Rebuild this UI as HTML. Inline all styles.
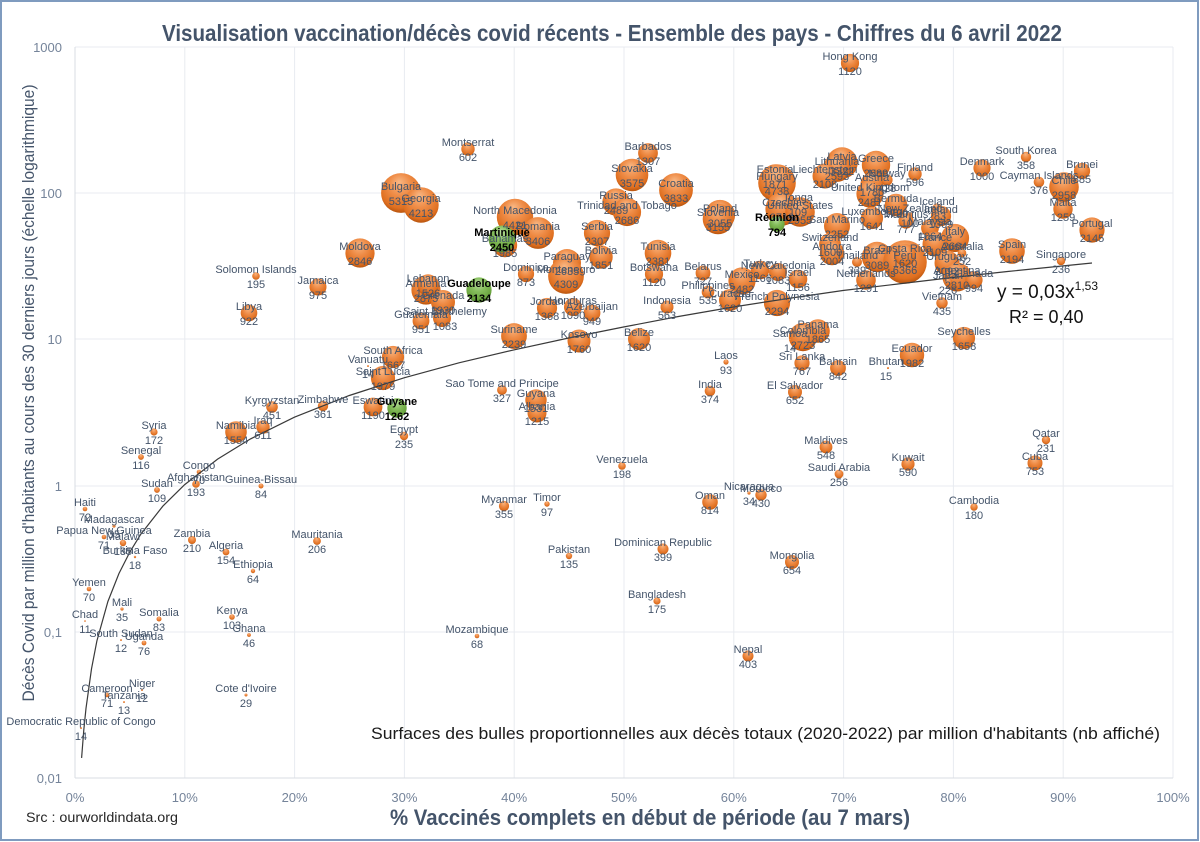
<!DOCTYPE html>
<html><head><meta charset="utf-8"><style>html,body{margin:0;padding:0;background:#fff}svg{display:block}</style></head>
<body>
<svg xmlns="http://www.w3.org/2000/svg" width="1200" height="842" viewBox="0 0 1200 842">
<defs>
<radialGradient id="o" cx="0.5" cy="0.38" r="0.62" fx="0.45" fy="0.22">
<stop offset="0" stop-color="#f8b784"/><stop offset="0.45" stop-color="#ef8d48"/><stop offset="0.85" stop-color="#df6f20"/><stop offset="1" stop-color="#b8550f"/>
</radialGradient>
<radialGradient id="g" cx="0.5" cy="0.38" r="0.62" fx="0.45" fy="0.22">
<stop offset="0" stop-color="#b9de9e"/><stop offset="0.45" stop-color="#85bd5c"/><stop offset="0.85" stop-color="#6aa53e"/><stop offset="1" stop-color="#4b7d2a"/>
</radialGradient>
</defs>
<rect x="0" y="0" width="1200" height="842" fill="#fff"/>
<rect x="1" y="1" width="1197" height="839" fill="none" stroke="#7f9bbf" stroke-width="2"/>
<!-- grid -->
<g stroke="#e8ebf0" stroke-width="1">
<line x1="75" y1="47" x2="1173" y2="47"/>
<line x1="75" y1="193" x2="1173" y2="193"/>
<line x1="75" y1="339" x2="1173" y2="339"/>
<line x1="75" y1="486" x2="1173" y2="486"/>
<line x1="75" y1="632" x2="1173" y2="632"/>
<line x1="184.8" y1="47" x2="184.8" y2="778"/>
<line x1="294.6" y1="47" x2="294.6" y2="778"/>
<line x1="404.4" y1="47" x2="404.4" y2="778"/>
<line x1="514.2" y1="47" x2="514.2" y2="778"/>
<line x1="624" y1="47" x2="624" y2="778"/>
<line x1="733.8" y1="47" x2="733.8" y2="778"/>
<line x1="843.6" y1="47" x2="843.6" y2="778"/>
<line x1="953.4" y1="47" x2="953.4" y2="778"/>
<line x1="1063.2" y1="47" x2="1063.2" y2="778"/>
<line x1="1173" y1="47" x2="1173" y2="778"/>
</g>
<g stroke="#d9dde3" stroke-width="1">
<line x1="75" y1="47" x2="75" y2="778"/>
<line x1="75" y1="778" x2="1173" y2="778"/>
</g>
<!-- title -->
<text x="162" y="41" font-family="'Liberation Sans', sans-serif" font-weight="bold" font-size="23" fill="#44546a" textLength="900" lengthAdjust="spacingAndGlyphs">Visualisation vaccination/décès covid récents - Ensemble des pays - Chiffres du 6 avril 2022</text>
<!-- y ticks -->
<g font-family="'Liberation Sans', sans-serif" font-size="13" fill="#75849a" text-anchor="end">
<text x="62" y="52">1000</text>
<text x="62" y="198">100</text>
<text x="62" y="344">10</text>
<text x="62" y="491">1</text>
<text x="62" y="637">0,1</text>
<text x="62" y="783">0,01</text>
</g>
<g font-family="'Liberation Sans', sans-serif" font-size="13" fill="#75849a" text-anchor="middle">
<text x="75" y="802">0%</text>
<text x="184.8" y="802">10%</text>
<text x="294.6" y="802">20%</text>
<text x="404.4" y="802">30%</text>
<text x="514.2" y="802">40%</text>
<text x="624" y="802">50%</text>
<text x="733.8" y="802">60%</text>
<text x="843.6" y="802">70%</text>
<text x="953.4" y="802">80%</text>
<text x="1063.2" y="802">90%</text>
<text x="1173" y="802">100%</text>
</g>
<text transform="translate(34,393) rotate(-90)" text-anchor="middle" font-family="'Liberation Sans', sans-serif" font-size="17" fill="#44546a" textLength="617" lengthAdjust="spacingAndGlyphs">Décès Covid par million d'habitants au cours des 30 derniers jours (échelle logarithmique)</text>
<text x="390" y="825" font-family="'Liberation Sans', sans-serif" font-weight="bold" font-size="22" fill="#44546a" textLength="520" lengthAdjust="spacingAndGlyphs">% Vaccinés complets en début de période (au 7 mars)</text>
<text x="26" y="822" font-family="'Liberation Sans', sans-serif" font-size="14" fill="#262626" textLength="152" lengthAdjust="spacingAndGlyphs">Src : ourworldindata.org</text>

<!-- bubbles -->
<g fill="url(#o)">
<circle cx="85" cy="509" r="2.3"/><circle cx="114" cy="526" r="1.6"/><circle cx="104" cy="537" r="2.3"/><circle cx="123" cy="543" r="3.2"/><circle cx="135" cy="557" r="1.2"/>
<circle cx="89" cy="589" r="2.3"/><circle cx="122" cy="609" r="1.6"/><circle cx="85" cy="621" r="0.9"/><circle cx="159" cy="619" r="2.5"/><circle cx="121" cy="640" r="1"/>
<circle cx="144" cy="643" r="2.4"/><circle cx="107" cy="695" r="2.3"/><circle cx="142" cy="690" r="1"/><circle cx="124" cy="702" r="1"/><circle cx="81" cy="728" r="1"/>
<circle cx="246" cy="695" r="1.5"/><circle cx="232" cy="617" r="2.8"/><circle cx="249" cy="635" r="1.9"/><circle cx="253" cy="571" r="2.2"/><circle cx="226" cy="552" r="3.4"/>
<circle cx="192" cy="540" r="4"/><circle cx="317" cy="541" r="3.9"/><circle cx="157" cy="490" r="2.9"/><circle cx="196" cy="484" r="3.8"/><circle cx="199" cy="472" r="2.3"/>
<circle cx="261" cy="486" r="2.5"/><circle cx="141" cy="457" r="2.9"/><circle cx="154" cy="432" r="3.6"/><circle cx="236" cy="432" r="10.8"/><circle cx="263" cy="427" r="6.7"/>
<circle cx="272" cy="407" r="5.8"/><circle cx="323" cy="406" r="5.2"/><circle cx="373" cy="407" r="9.4"/><circle cx="404" cy="436" r="4.2"/><circle cx="393" cy="357" r="11.1"/>
<circle cx="368" cy="366" r="1"/><circle cx="383" cy="378" r="12.1"/><circle cx="249" cy="313" r="8.3"/><circle cx="256" cy="276" r="3.8"/><circle cx="318" cy="287" r="8.5"/>
<circle cx="360" cy="253" r="14.6"/><circle cx="401" cy="193" r="19.9"/><circle cx="421" cy="205" r="17.7"/><circle cx="426" cy="290" r="14.6"/><circle cx="428" cy="285" r="10.7"/>
<circle cx="443" cy="302" r="12"/><circle cx="421" cy="321" r="8.4"/><circle cx="442" cy="318" r="9"/><circle cx="515" cy="217" r="18.2"/><circle cx="538" cy="233" r="15.9"/>
<circle cx="505" cy="245" r="12.2"/><circle cx="468" cy="149" r="6.7"/><circle cx="648" cy="153" r="9.9"/><circle cx="632" cy="175" r="16.3"/><circle cx="676" cy="190" r="16.9"/>
<circle cx="616" cy="202" r="13.6"/><circle cx="627" cy="212" r="14.1"/><circle cx="597" cy="233" r="13.1"/><circle cx="601" cy="257" r="11.7"/><circle cx="567" cy="263" r="14"/>
<circle cx="566" cy="276" r="17.9"/><circle cx="526" cy="274" r="8.1"/><circle cx="547" cy="308" r="10.1"/><circle cx="573" cy="307" r="9"/><circle cx="592" cy="313" r="8.4"/>
<circle cx="514" cy="336" r="12.9"/><circle cx="579" cy="341" r="11.5"/><circle cx="639" cy="339" r="11"/><circle cx="658" cy="253" r="13.3"/><circle cx="654" cy="274" r="9.1"/>
<circle cx="667" cy="307" r="6.5"/><circle cx="703" cy="273" r="7.4"/><circle cx="708" cy="292" r="6.3"/><circle cx="720" cy="215" r="15.1"/><circle cx="718" cy="219" r="15.3"/>
<circle cx="775" cy="176" r="11.8"/><circle cx="777" cy="183" r="18.8"/><circle cx="782" cy="209" r="16.6"/><circle cx="798" cy="204" r="2.9"/><circle cx="800" cy="212" r="14.8"/>
<circle cx="842" cy="163" r="15.7"/><circle cx="837" cy="168" r="13.9"/><circle cx="825" cy="176" r="12.5"/><circle cx="876" cy="165" r="14.2"/><circle cx="872" cy="184" r="11.5"/>
<circle cx="870" cy="194" r="13.6"/><circle cx="887" cy="180" r="5.6"/><circle cx="915" cy="174" r="6.7"/><circle cx="982" cy="168" r="8.6"/><circle cx="896" cy="205" r="11.3"/>
<circle cx="937" cy="208" r="4.6"/><circle cx="910" cy="215" r="2.7"/><circle cx="941" cy="216" r="10.1"/><circle cx="872" cy="218" r="11.1"/><circle cx="906" cy="221" r="7.6"/>
<circle cx="930" cy="228" r="8.9"/><circle cx="955" cy="238" r="14.1"/><circle cx="935" cy="244" r="12.5"/><circle cx="962" cy="253" r="4.3"/><circle cx="947" cy="263" r="12.5"/>
<circle cx="957" cy="277" r="14.5"/><circle cx="948" cy="282" r="4.1"/><circle cx="974" cy="280" r="8.6"/><circle cx="942" cy="303" r="5.7"/><circle cx="1012" cy="251" r="12.8"/>
<circle cx="1061" cy="261" r="4.2"/><circle cx="1092" cy="230" r="12.6"/><circle cx="1063" cy="209" r="9.7"/><circle cx="1064" cy="187" r="14.8"/><circle cx="1039" cy="182" r="5.3"/>
<circle cx="1082" cy="171" r="8.1"/><circle cx="1026" cy="157" r="5.2"/><circle cx="850" cy="63" r="9.1"/><circle cx="877" cy="257" r="15.2"/><circle cx="905" cy="262" r="21.8"/>
<circle cx="905" cy="255" r="11"/><circle cx="857" cy="262" r="5"/><circle cx="866" cy="280" r="9.8"/><circle cx="837" cy="226" r="13"/><circle cx="830" cy="244" r="10.9"/>
<circle cx="832" cy="253" r="12.2"/><circle cx="798" cy="279" r="9.3"/><circle cx="778" cy="272" r="9"/><circle cx="760" cy="270" r="9.3"/><circle cx="742" cy="281" r="13.6"/>
<circle cx="730" cy="300" r="11"/><circle cx="777" cy="303" r="13.1"/><circle cx="818" cy="331" r="11.8"/><circle cx="803" cy="337" r="14.2"/><circle cx="790" cy="340" r="1"/>
<circle cx="802" cy="363" r="7.6"/><circle cx="838" cy="368" r="7.9"/><circle cx="795" cy="392" r="7"/><circle cx="726" cy="362" r="2.6"/><circle cx="710" cy="391" r="5.3"/>
<circle cx="888" cy="368" r="1.1"/><circle cx="912" cy="355" r="12.2"/><circle cx="964" cy="338" r="11.1"/><circle cx="826" cy="447" r="6.4"/><circle cx="839" cy="474" r="4.4"/>
<circle cx="908" cy="464" r="6.6"/><circle cx="1046" cy="440" r="4.2"/><circle cx="1035" cy="463" r="7.5"/><circle cx="974" cy="507" r="3.7"/><circle cx="792" cy="562" r="7"/>
<circle cx="748" cy="656" r="5.5"/><circle cx="657" cy="601" r="3.6"/><circle cx="663" cy="549" r="5.5"/><circle cx="569" cy="556" r="3.2"/><circle cx="477" cy="636" r="2.3"/>
<circle cx="504" cy="506" r="5.1"/><circle cx="547" cy="504" r="2.7"/><circle cx="622" cy="466" r="3.8"/><circle cx="710" cy="502" r="7.8"/><circle cx="749" cy="493" r="1.6"/>
<circle cx="761" cy="495" r="5.7"/><circle cx="502" cy="390" r="4.9"/><circle cx="536" cy="400" r="10.7"/><circle cx="537" cy="413" r="9.5"/>
</g>
<g fill="url(#g)">
<circle cx="397" cy="408" r="9.7"/><circle cx="479" cy="290" r="12.6"/><circle cx="502" cy="239" r="13.5"/><circle cx="777" cy="224" r="7.7"/>
</g>

<!-- trend line -->
<path d="M81.6,757.9 L83.8,729.9 L86,708.3 L91.5,668.9 L96.9,640.9 L107.9,601.5 L118.9,573.6 L129.9,551.9 L140.8,534.2 L162.8,506.2 L184.7,484.6 L217.6,459.1 L250.5,438.9 L294.4,417.2 L349.3,395.5 L404.1,377.8 L459,362.8 L513.8,349.9 L568.7,338 L623.5,327 L678.4,316.5 L733.2,307 L788.1,298.5 L842.9,290.5 L897.8,284 L952.6,277.5 L1007.5,271.5 L1092,263" fill="none" stroke="#3a3a3a" stroke-width="1.2"/>

<!-- labels -->
<g font-family="'Liberation Sans', sans-serif" font-size="11" fill="#44546a" text-anchor="middle">
<text x="85" y="506">Haiti<tspan x="85" dy="15">72</tspan></text>
<text x="114" y="523">Madagascar<tspan x="114" dy="15">35</tspan></text>
<text x="104" y="534">Papua New Guinea<tspan x="104" dy="15">71</tspan></text>
<text x="123" y="540">Malawi<tspan x="123" dy="15">135</tspan></text>
<text x="135" y="554">Burkina Faso<tspan x="135" dy="15">18</tspan></text>
<text x="89" y="586">Yemen<tspan x="89" dy="15">70</tspan></text>
<text x="122" y="606">Mali<tspan x="122" dy="15">35</tspan></text>
<text x="85" y="618">Chad<tspan x="85" dy="15">11</tspan></text>
<text x="159" y="616">Somalia<tspan x="159" dy="15">83</tspan></text>
<text x="121" y="637">South Sudan<tspan x="121" dy="15">12</tspan></text>
<text x="144" y="640">Uganda<tspan x="144" dy="15">76</tspan></text>
<text x="107" y="692">Cameroon<tspan x="107" dy="15">71</tspan></text>
<text x="142" y="687">Niger<tspan x="142" dy="15">12</tspan></text>
<text x="124" y="699">Tanzania<tspan x="124" dy="15">13</tspan></text>
<text x="81" y="725">Democratic Republic of Congo<tspan x="81" dy="15">14</tspan></text>
<text x="246" y="692">Cote d'Ivoire<tspan x="246" dy="15">29</tspan></text>
<text x="232" y="614">Kenya<tspan x="232" dy="15">103</tspan></text>
<text x="249" y="632">Ghana<tspan x="249" dy="15">46</tspan></text>
<text x="253" y="568">Ethiopia<tspan x="253" dy="15">64</tspan></text>
<text x="226" y="549">Algeria<tspan x="226" dy="15">154</tspan></text>
<text x="192" y="537">Zambia<tspan x="192" dy="15">210</tspan></text>
<text x="317" y="538">Mauritania<tspan x="317" dy="15">206</tspan></text>
<text x="157" y="487">Sudan<tspan x="157" dy="15">109</tspan></text>
<text x="199" y="469">Congo<tspan x="199" dy="15">70</tspan></text>
<text x="196" y="481">Afghanistan<tspan x="196" dy="15">193</tspan></text>
<text x="261" y="483">Guinea-Bissau<tspan x="261" dy="15">84</tspan></text>
<text x="141" y="454">Senegal<tspan x="141" dy="15">116</tspan></text>
<text x="154" y="429">Syria<tspan x="154" dy="15">172</tspan></text>
<text x="236" y="429">Namibia<tspan x="236" dy="15">1554</tspan></text>
<text x="263" y="424">Iraq<tspan x="263" dy="15">611</tspan></text>
<text x="272" y="404">Kyrgyzstan<tspan x="272" dy="15">451</tspan></text>
<text x="323" y="403">Zimbabwe<tspan x="323" dy="15">361</tspan></text>
<text x="373" y="404">Eswatini<tspan x="373" dy="15">1190</tspan></text>
<text x="404" y="433">Egypt<tspan x="404" dy="15">235</tspan></text>
<text x="393" y="354">South Africa<tspan x="393" dy="15">1667</tspan></text>
<text x="368" y="363">Vanuatu<tspan x="368" dy="15">14</tspan></text>
<text x="383" y="375">Saint Lucia<tspan x="383" dy="15">1979</tspan></text>
<text x="249" y="310">Libya<tspan x="249" dy="15">922</tspan></text>
<text x="256" y="273">Solomon Islands<tspan x="256" dy="15">195</tspan></text>
<text x="318" y="284">Jamaica<tspan x="318" dy="15">975</tspan></text>
<text x="360" y="250">Moldova<tspan x="360" dy="15">2846</tspan></text>
<text x="401" y="190">Bulgaria<tspan x="401" dy="15">5315</tspan></text>
<text x="421" y="202">Georgia<tspan x="421" dy="15">4213</tspan></text>
<text x="428" y="282">Lebanon<tspan x="428" dy="15">1526</tspan></text>
<text x="426" y="287">Armenia<tspan x="426" dy="15">2875</tspan></text>
<text x="443" y="299">Grenada<tspan x="443" dy="15">1930</tspan></text>
<text x="421" y="318">Guatemala<tspan x="421" dy="15">951</tspan></text>
<text x="445" y="315">Saint Barthelemy<tspan x="445" dy="15">1083</tspan></text>
<text x="515" y="214">North Macedonia<tspan x="515" dy="15">4421</tspan></text>
<text x="538" y="230">Romania<tspan x="538" dy="15">3406</tspan></text>
<text x="505" y="242">Bahamas<tspan x="505" dy="15">1985</tspan></text>
<text x="468" y="146">Montserrat<tspan x="468" dy="15">602</tspan></text>
<text x="648" y="150">Barbados<tspan x="648" dy="15">1307</tspan></text>
<text x="632" y="172">Slovakia<tspan x="632" dy="15">3575</tspan></text>
<text x="676" y="187">Croatia<tspan x="676" dy="15">3833</tspan></text>
<text x="616" y="199">Russia<tspan x="616" dy="15">2489</tspan></text>
<text x="627" y="209">Trinidad and Tobago<tspan x="627" dy="15">2686</tspan></text>
<text x="597" y="230">Serbia<tspan x="597" dy="15">2307</tspan></text>
<text x="601" y="254">Bolivia<tspan x="601" dy="15">1851</tspan></text>
<text x="567" y="260">Paraguay<tspan x="567" dy="15">2635</tspan></text>
<text x="526" y="271">Dominica<tspan x="526" dy="15">873</tspan></text>
<text x="566" y="273">Montenegro<tspan x="566" dy="15">4309</tspan></text>
<text x="547" y="305">Jordan<tspan x="547" dy="15">1368</tspan></text>
<text x="573" y="304">Honduras<tspan x="573" dy="15">1090</tspan></text>
<text x="592" y="310">Azerbaijan<tspan x="592" dy="15">949</tspan></text>
<text x="514" y="333">Suriname<tspan x="514" dy="15">2239</tspan></text>
<text x="579" y="338">Kosovo<tspan x="579" dy="15">1760</tspan></text>
<text x="639" y="336">Belize<tspan x="639" dy="15">1620</tspan></text>
<text x="658" y="250">Tunisia<tspan x="658" dy="15">2381</tspan></text>
<text x="654" y="271">Botswana<tspan x="654" dy="15">1120</tspan></text>
<text x="667" y="304">Indonesia<tspan x="667" dy="15">563</tspan></text>
<text x="703" y="270">Belarus<tspan x="703" dy="15">727</tspan></text>
<text x="708" y="289">Philippines<tspan x="708" dy="15">535</tspan></text>
<text x="720" y="212">Poland<tspan x="720" dy="15">3055</tspan></text>
<text x="718" y="216">Slovenia<tspan x="718" dy="15">3155</tspan></text>
<text x="775" y="173">Estonia<tspan x="775" dy="15">1871</tspan></text>
<text x="777" y="180">Hungary<tspan x="777" dy="15">4738</tspan></text>
<text x="782" y="206">Czechia<tspan x="782" dy="15">3719</tspan></text>
<text x="798" y="201">Tonga<tspan x="798" dy="15">109</tspan></text>
<text x="800" y="209">United States<tspan x="800" dy="15">2955</tspan></text>
<text x="842" y="160">Latvia<tspan x="842" dy="15">3322</tspan></text>
<text x="837" y="165">Lithuania<tspan x="837" dy="15">2593</tspan></text>
<text x="825" y="173">Liechtenstein<tspan x="825" dy="15">2108</tspan></text>
<text x="876" y="162">Greece<tspan x="876" dy="15">2689</tspan></text>
<text x="872" y="181">Austria<tspan x="872" dy="15">1780</tspan></text>
<text x="870" y="191">United Kingdom<tspan x="870" dy="15">2481</tspan></text>
<text x="887" y="177">Norway<tspan x="887" dy="15">428</tspan></text>
<text x="915" y="171">Finland<tspan x="915" dy="15">596</tspan></text>
<text x="982" y="165">Denmark<tspan x="982" dy="15">1000</tspan></text>
<text x="896" y="202">Bermuda<tspan x="896" dy="15">1720</tspan></text>
<text x="937" y="205">Iceland<tspan x="937" dy="15">283</tspan></text>
<text x="910" y="212">New Zealand<tspan x="910" dy="15">100</tspan></text>
<text x="941" y="213">Ireland<tspan x="941" dy="15">1369</tspan></text>
<text x="872" y="215">Luxembourg<tspan x="872" dy="15">1641</tspan></text>
<text x="906" y="218">Mauritius<tspan x="906" dy="15">777</tspan></text>
<text x="930" y="225">Malaysia<tspan x="930" dy="15">1064</tspan></text>
<text x="955" y="235">Italy<tspan x="955" dy="15">2664</tspan></text>
<text x="935" y="241">France<tspan x="935" dy="15">2109</tspan></text>
<text x="962" y="250">Australia<tspan x="962" dy="15">252</tspan></text>
<text x="947" y="260">Uruguay<tspan x="947" dy="15">2092</tspan></text>
<text x="957" y="274">Argentina<tspan x="957" dy="15">2810</tspan></text>
<text x="948" y="279">Japan<tspan x="948" dy="15">226</tspan></text>
<text x="974" y="277">Canada<tspan x="974" dy="15">994</tspan></text>
<text x="942" y="300">Vietnam<tspan x="942" dy="15">435</tspan></text>
<text x="1012" y="248">Spain<tspan x="1012" dy="15">2194</tspan></text>
<text x="1061" y="258">Singapore<tspan x="1061" dy="15">236</tspan></text>
<text x="1092" y="227">Portugal<tspan x="1092" dy="15">2145</tspan></text>
<text x="1063" y="206">Malta<tspan x="1063" dy="15">1259</tspan></text>
<text x="1064" y="184">Chile<tspan x="1064" dy="15">2958</tspan></text>
<text x="1039" y="179">Cayman Islands<tspan x="1039" dy="15">376</tspan></text>
<text x="1082" y="168">Brunei<tspan x="1082" dy="15">885</tspan></text>
<text x="1026" y="154">South Korea<tspan x="1026" dy="15">358</tspan></text>
<text x="850" y="60">Hong Kong<tspan x="850" dy="15">1120</tspan></text>
<text x="877" y="254">Brazil<tspan x="877" dy="15">3089</tspan></text>
<text x="905" y="252">Costa Rica<tspan x="905" dy="15">1620</tspan></text>
<text x="905" y="259">Peru<tspan x="905" dy="15">6366</tspan></text>
<text x="857" y="259">Thailand<tspan x="857" dy="15">339</tspan></text>
<text x="866" y="277">Netherlands<tspan x="866" dy="15">1291</tspan></text>
<text x="837" y="223">San Marino<tspan x="837" dy="15">2252</tspan></text>
<text x="830" y="241">Switzerland<tspan x="830" dy="15">1600</tspan></text>
<text x="832" y="250">Andorra<tspan x="832" dy="15">2004</tspan></text>
<text x="798" y="276">Israel<tspan x="798" dy="15">1156</tspan></text>
<text x="778" y="269">New Caledonia<tspan x="778" dy="15">1083</tspan></text>
<text x="760" y="267">Turkey<tspan x="760" dy="15">1166</tspan></text>
<text x="742" y="278">Mexico<tspan x="742" dy="15">2482</tspan></text>
<text x="730" y="297">Curaçao<tspan x="730" dy="15">1620</tspan></text>
<text x="777" y="300">French Polynesia<tspan x="777" dy="15">2294</tspan></text>
<text x="818" y="328">Panama<tspan x="818" dy="15">1865</tspan></text>
<text x="803" y="334">Colombia<tspan x="803" dy="15">2723</tspan></text>
<text x="790" y="337">Samoa<tspan x="790" dy="15">14</tspan></text>
<text x="802" y="360">Sri Lanka<tspan x="802" dy="15">767</tspan></text>
<text x="838" y="365">Bahrain<tspan x="838" dy="15">842</tspan></text>
<text x="795" y="389">El Salvador<tspan x="795" dy="15">652</tspan></text>
<text x="726" y="359">Laos<tspan x="726" dy="15">93</tspan></text>
<text x="710" y="388">India<tspan x="710" dy="15">374</tspan></text>
<text x="886" y="365">Bhutan<tspan x="886" dy="15">15</tspan></text>
<text x="912" y="352">Ecuador<tspan x="912" dy="15">1982</tspan></text>
<text x="964" y="335">Seychelles<tspan x="964" dy="15">1658</tspan></text>
<text x="826" y="444">Maldives<tspan x="826" dy="15">548</tspan></text>
<text x="839" y="471">Saudi Arabia<tspan x="839" dy="15">256</tspan></text>
<text x="908" y="461">Kuwait<tspan x="908" dy="15">590</tspan></text>
<text x="1046" y="437">Qatar<tspan x="1046" dy="15">231</tspan></text>
<text x="1035" y="460">Cuba<tspan x="1035" dy="15">753</tspan></text>
<text x="974" y="504">Cambodia<tspan x="974" dy="15">180</tspan></text>
<text x="792" y="559">Mongolia<tspan x="792" dy="15">654</tspan></text>
<text x="748" y="653">Nepal<tspan x="748" dy="15">403</tspan></text>
<text x="657" y="598">Bangladesh<tspan x="657" dy="15">175</tspan></text>
<text x="663" y="546">Dominican Republic<tspan x="663" dy="15">399</tspan></text>
<text x="569" y="553">Pakistan<tspan x="569" dy="15">135</tspan></text>
<text x="477" y="633">Mozambique<tspan x="477" dy="15">68</tspan></text>
<text x="504" y="503">Myanmar<tspan x="504" dy="15">355</tspan></text>
<text x="547" y="501">Timor<tspan x="547" dy="15">97</tspan></text>
<text x="622" y="463">Venezuela<tspan x="622" dy="15">198</tspan></text>
<text x="710" y="499">Oman<tspan x="710" dy="15">814</tspan></text>
<text x="749" y="490">Nicaragua<tspan x="749" dy="15">34</tspan></text>
<text x="761" y="492">Morocco<tspan x="761" dy="15">430</tspan></text>
<text x="502" y="387">Sao Tome and Principe<tspan x="502" dy="15">327</tspan></text>
<text x="536" y="397">Guyana<tspan x="536" dy="15">1531</tspan></text>
<text x="537" y="410">Albania<tspan x="537" dy="15">1215</tspan></text>
</g>
<g font-family="'Liberation Sans', sans-serif" font-size="11" font-weight="bold" fill="#000" text-anchor="middle">
<text x="397" y="405">Guyane<tspan x="397" dy="15">1262</tspan></text>
<text x="479" y="287">Guadeloupe<tspan x="479" dy="15">2134</tspan></text>
<text x="502" y="236">Martinique<tspan x="502" dy="15">2450</tspan></text>
<text x="777" y="221">Réunion<tspan x="777" dy="15">794</tspan></text>
</g>

<!-- equation -->
<g font-family="'Liberation Sans', sans-serif" fill="#111">
<text x="997" y="298" font-size="19">y = 0,03x<tspan dy="-8" font-size="12">1,53</tspan></text>
<text x="1009" y="323" font-size="18">R² = 0,40</text>
</g>
<text x="371" y="739" font-family="'Liberation Sans', sans-serif" font-size="16.5" fill="#1a1a1a" textLength="789" lengthAdjust="spacingAndGlyphs">Surfaces des bulles proportionnelles aux décès totaux (2020-2022) par million d'habitants (nb affiché)</text>
</svg>
</body></html>
